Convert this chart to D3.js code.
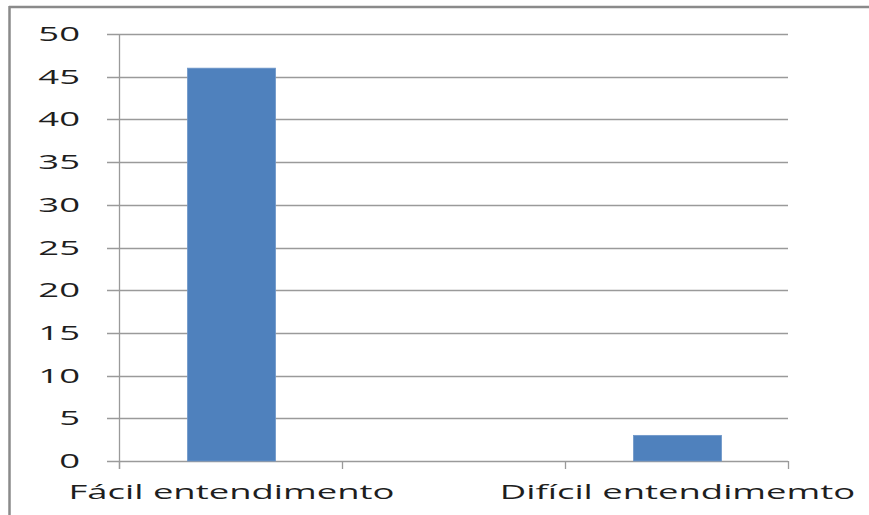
<!DOCTYPE html>
<html>
<head>
<meta charset="utf-8">
<script src="https://cdn.jsdelivr.net/npm/d3@7"></script>
<style>
  html, body { margin: 0; padding: 0; background: #fff; }
  svg { display: block; }
</style>
</head>
<body>
<svg id="chart" width="869" height="515"></svg>
<script>
// Chart data
const categories = ["Fácil entendimento", "", "Difícil entendimemto"];
const values = [46, 0, 3];
const yTicks = [0, 5, 10, 15, 20, 25, 30, 35, 40, 45, 50];

const W = 869, H = 515;
const plot = { left: 119, right: 788, top: 34, bottom: 461 };
const fontSize = 19.5;
const stretch = 1.87;          // wide, horizontally stretched lettering
const textColor = "#1e1e1e";
const gridColor = "#9a9a9a";
const barColor = "#4f81bd";

const svg = d3.select("#chart");

// Frame: top and left edges
svg.append("line").attr("x1", 9).attr("x2", W).attr("y1", 7).attr("y2", 7)
  .attr("stroke", "#8a8a8a").attr("stroke-width", 2.5);
svg.append("line").attr("x1", 9.5).attr("x2", 9.5).attr("y1", 6).attr("y2", H)
  .attr("stroke", "#8a8a8a").attr("stroke-width", 2.5);

const x = d3.scaleBand()
  .domain(d3.range(categories.length))
  .range([plot.left, plot.right])
  .paddingInner(0).paddingOuter(0);

const y = d3.scaleLinear()
  .domain([0, 50])
  .range([plot.bottom, plot.top]);

// Horizontal gridlines (extend left past the axis as tick marks)
svg.append("g").selectAll("line").data(yTicks).join("line")
  .attr("x1", plot.left - 12).attr("x2", plot.right)
  .attr("y1", d => Math.round(y(d)) + 0.5).attr("y2", d => Math.round(y(d)) + 0.5)
  .attr("stroke", gridColor).attr("stroke-width", 1.3);

// Y axis line
svg.append("line")
  .attr("x1", plot.left + 0.5).attr("x2", plot.left + 0.5)
  .attr("y1", plot.top).attr("y2", plot.bottom + 8)
  .attr("stroke", gridColor).attr("stroke-width", 1.3);

// X axis tick marks at band boundaries
const bounds = d3.range(categories.length + 1).map(i =>
  i < categories.length ? x(i) : x(categories.length - 1) + x.bandwidth());
svg.append("g").selectAll("line").data(bounds).join("line")
  .attr("x1", d => Math.round(d) + 0.5).attr("x2", d => Math.round(d) + 0.5)
  .attr("y1", plot.bottom).attr("y2", plot.bottom + 8)
  .attr("stroke", gridColor).attr("stroke-width", 1.3);

// Bars
const barW = x.bandwidth() * 0.395;
svg.append("g").selectAll("rect").data(values).join("rect")
  .attr("x", (d, i) => x(i) + (x.bandwidth() - barW) / 2 + 1)
  .attr("y", d => y(d))
  .attr("width", barW)
  .attr("height", d => y(0) - y(d))
  .attr("fill", barColor)
  .attr("stroke", "#6f97c9").attr("stroke-width", 0.8);

// Y tick labels
svg.append("g").selectAll("text").data(yTicks).join("text")
  .attr("transform", d => `translate(${plot.left - 39},${y(d)}) scale(${stretch},1)`)
  .attr("text-anchor", "end")
  .attr("dy", "0.36em")
  .attr("font-family", "'Open Sans', 'Noto Sans', sans-serif")
  .attr("font-size", fontSize)
  .attr("fill", textColor)
  .text(d => d);

// Category labels
svg.append("g").selectAll("text").data(categories).join("text")
  .attr("transform", (d, i) => `translate(${x(i) + x.bandwidth() / 2 + 1},${plot.bottom + 38}) scale(${stretch},1)`)
  .attr("text-anchor", "middle")
  .attr("font-family", "'Open Sans', 'Noto Sans', sans-serif")
  .attr("font-size", fontSize)
  .attr("fill", textColor)
  .text(d => d);
</script>
</body>
</html>
